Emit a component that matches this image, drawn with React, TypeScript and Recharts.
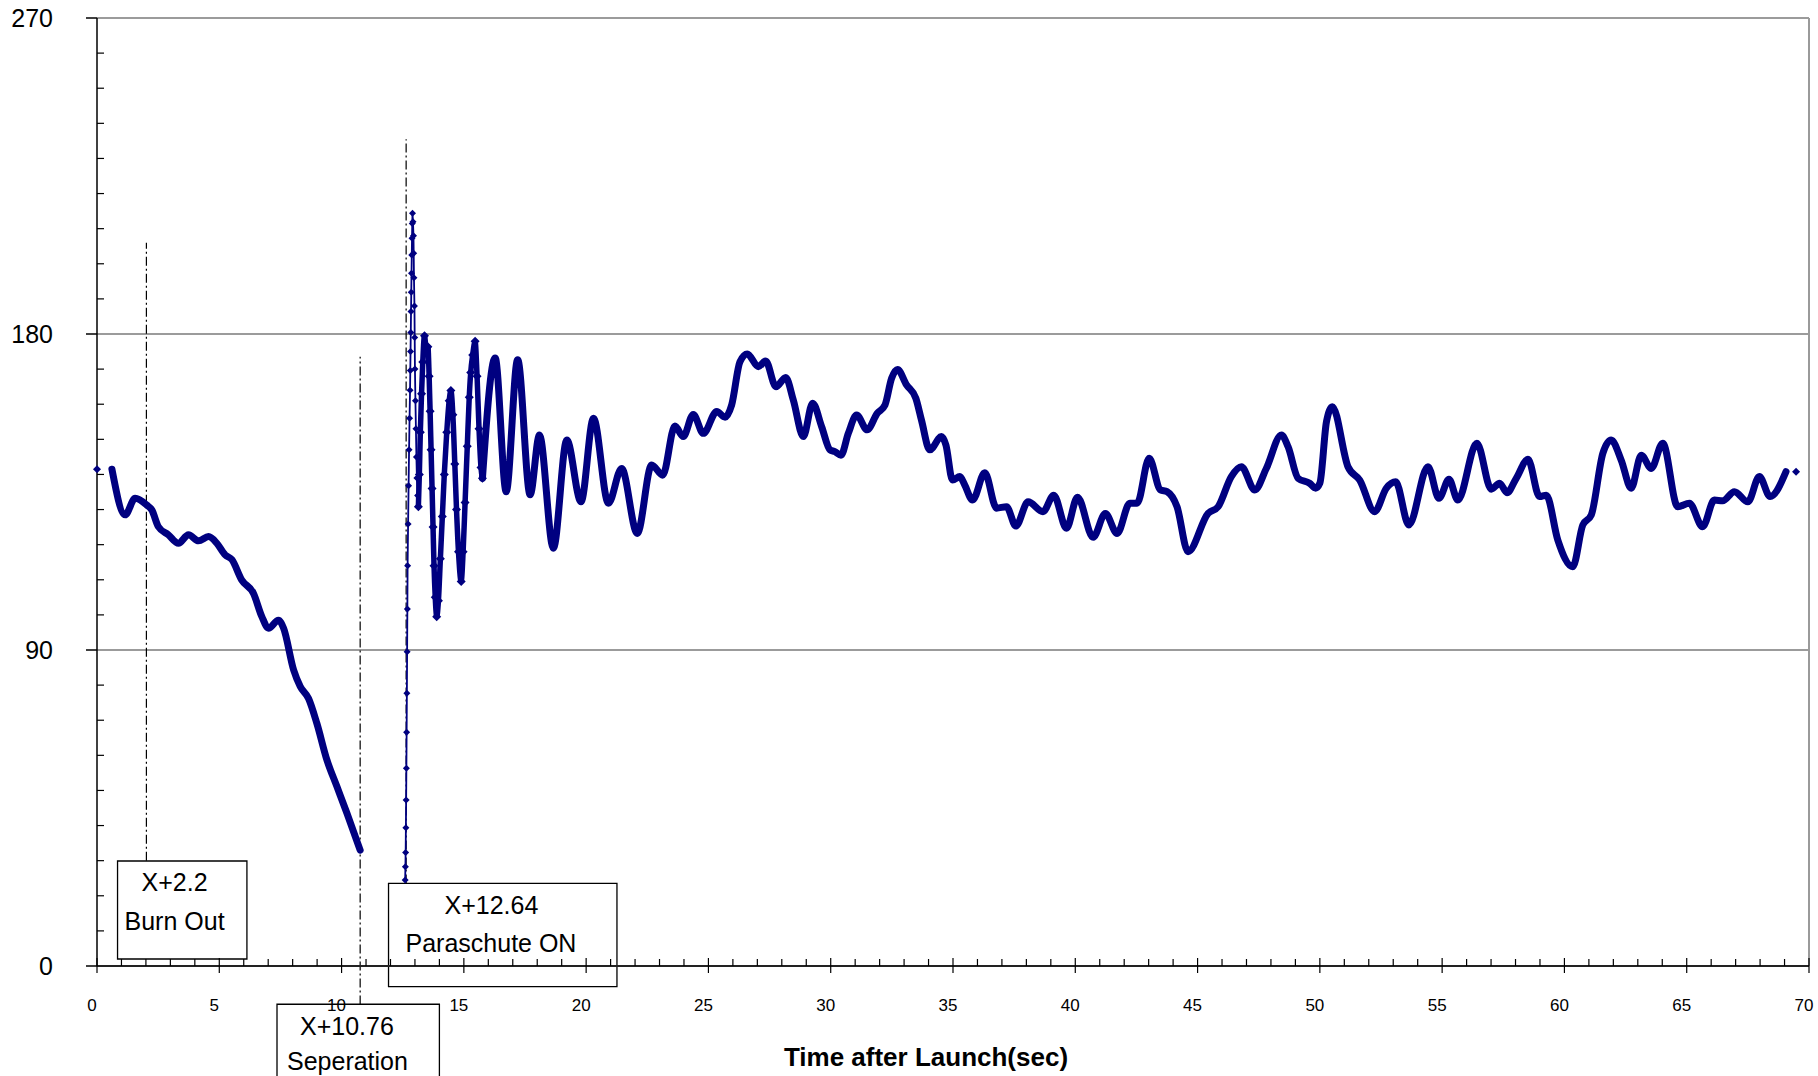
import { LineChart, Line, XAxis, YAxis, ReferenceLine, ReferenceArea } from 'recharts';

const NAVY = '#000080';
const FONT = '"Liberation Sans", Arial, sans-serif';

// [time (s), angle]
const startPoint: [number, number][] = [[0, 141.5]];

const boostPhase: [number, number][] = [
  [0.61, 141.5], [1.15, 128.5], [1.56, 133.2], [2.03, 131.3], [2.24, 129.9], [2.51, 125.1],
  [2.92, 122.8], [3.33, 120.4], [3.74, 122.8], [4.15, 121.1], [4.56, 122.3], [4.9, 120.4],
  [5.24, 117.1], [5.51, 115.8], [5.92, 109.9], [6.4, 106.1], [6.74, 99.5], [7.01, 96.2],
  [7.42, 98.5], [7.63, 96.2], [8.04, 84.3], [8.31, 79.6], [8.65, 76.2], [8.99, 69.1],
  [9.4, 58.7], [9.81, 51.1], [10.22, 43.5], [10.76, 33.0],
];

const chuteRise: [number, number][] = [
  [12.6, 24.5], [12.61, 28.3], [12.62, 32.3], [12.63, 39.4], [12.64, 47.3], [12.65, 56.3],
  [12.66, 66.6], [12.67, 77.7], [12.68, 89.5], [12.69, 101.7], [12.7, 114.0], [12.72, 125.9],
  [12.74, 136.8], [12.76, 147.0], [12.78, 156.0], [12.8, 164.0], [12.81, 169.6], [12.82, 175.0],
  [12.83, 180.4], [12.84, 186.4], [12.85, 191.9], [12.86, 197.3], [12.87, 202.5], [12.88, 207.3],
  [12.89, 211.5], [12.9, 214.4], [12.92, 212.0], [12.94, 208.0], [12.95, 203.0], [12.96, 196.0],
  [12.98, 188.0], [12.99, 179.0], [13.0, 170.0], [13.02, 161.0], [13.04, 153.0], [13.06, 145.0],
  [13.08, 139.0], [13.11, 134.0], [13.14, 130.8],
];

const chuteSwing: [number, number][] = [
  [13.14, 130.8], [13.18, 140], [13.22, 152], [13.27, 163], [13.32, 172], [13.39, 179.5],
  [13.46, 176], [13.53, 176.4], [13.58, 168], [13.62, 158], [13.66, 147], [13.7, 136],
  [13.74, 125], [13.78, 114], [13.83, 105], [13.89, 99.5], [13.96, 104], [14.04, 116],
  [14.12, 128], [14.2, 140], [14.3, 152], [14.4, 161], [14.47, 163.9], [14.55, 157],
  [14.63, 143], [14.7, 130], [14.78, 118], [14.89, 109.5], [14.97, 118], [15.05, 132],
  [15.14, 148], [15.22, 162], [15.28, 169], [15.36, 174], [15.46, 177.9], [15.54, 168],
  [15.62, 153], [15.7, 142], [15.76, 138.9],
];

const descentPhase: [number, number][] = [
  [15.76, 138.9], [16.28, 173.2], [16.73, 135.1], [17.2, 172.7], [17.71, 134.2], [18.09, 151.2],
  [18.66, 119.0], [19.21, 149.8], [19.79, 132.2], [20.3, 156.0], [20.91, 131.8], [21.45, 141.7],
  [22.09, 123.2], [22.68, 142.7], [23.13, 139.8], [23.63, 153.8], [23.97, 150.8], [24.38, 157.1],
  [24.79, 151.7], [25.34, 157.9], [25.68, 156.3], [25.95, 159.8], [26.29, 172.1], [26.59, 174.3],
  [27.04, 170.7], [27.34, 172.3], [27.76, 165.0], [28.16, 167.6], [28.47, 161.2], [28.88, 150.8],
  [29.26, 160.3], [29.63, 153.6], [29.97, 147.0], [30.17, 146.5], [30.42, 145.5], [30.72, 151.7],
  [31.06, 156.9], [31.49, 152.7], [31.9, 157.4], [32.22, 159.8], [32.49, 167.4], [32.73, 169.9],
  [33.1, 165.5], [33.48, 161.7], [33.71, 155.5], [34.05, 147.0], [34.53, 150.8], [34.71, 148.4],
  [34.98, 138.4], [35.28, 139.4], [35.48, 137.0], [35.8, 132.7], [36.3, 140.5], [36.78, 130.4],
  [37.19, 130.8], [37.57, 125.3], [38.07, 132.2], [38.68, 129.4], [39.12, 134.1], [39.64, 124.7],
  [40.09, 133.5], [40.73, 122.1], [41.23, 128.9], [41.71, 123.2], [42.23, 131.8], [42.53, 131.8],
  [43.02, 144.6], [43.48, 135.6], [43.75, 135.1], [44.16, 130.8], [44.61, 118.0], [45.43, 128.9],
  [45.84, 130.8], [46.38, 139.4], [46.79, 142.2], [47.34, 135.6], [47.81, 141.7], [48.43, 151.2],
  [48.7, 147.9], [49.11, 138.9], [49.58, 137.5], [49.83, 136.1], [50.0, 137.5], [50.27, 155.0],
  [50.51, 159.3], [51.15, 142.2], [51.63, 138.4], [52.24, 129.4], [52.72, 136.1], [53.1, 137.9],
  [53.64, 125.6], [54.42, 142.2], [54.87, 133.2], [55.28, 138.6], [55.64, 132.7], [56.42, 148.9],
  [57.01, 135.8], [57.35, 137.5], [57.65, 134.8], [58.03, 138.9], [58.51, 144.3], [58.98, 133.7],
  [59.26, 134.1], [59.73, 121.3], [60.34, 113.7], [60.75, 125.6], [61.1, 128.5], [61.57, 146.0],
  [61.91, 149.8], [62.32, 144.1], [62.73, 136.1], [63.14, 145.5], [63.55, 141.7], [64.02, 148.9],
  [64.63, 130.8], [65.11, 131.8], [65.65, 125.1], [66.13, 132.7], [66.47, 132.5], [66.95, 135.1],
  [67.5, 132.2], [67.97, 139.4], [68.41, 133.7], [69.06, 140.8],
];

const endPoint: [number, number][] = [[69.47, 140.8]];

const xTicks = Array.from({ length: 71 }, (_, i) => i);
const yTicks = Array.from({ length: 28 }, (_, i) => i * 10);
const gridValues = [90, 180, 270];

// event markers: dash-dot line drawn at t, from `from` up to `to`
const eventLines = [
  { t: 2.02, from: 30, to: 206 },
  { t: 10.76, from: -11, to: 173.5 },
  { t: 12.64, from: 23.5, to: 235.5 },
];

const eventBoxes = [
  { x1: 0.84, x2: 6.13, y1: 2.0, y2: 29.9, title: 'X+2.2', caption: 'Burn Out', tdx: 24, cdx: 7, tdy: 30, cdy: 69 },
  { x1: 7.36, x2: 14.0, y1: -40, y2: -10.9, title: 'X+10.76', caption: 'Seperation', tdx: 23, cdx: 10, tdy: 31, cdy: 66 },
  { x1: 11.92, x2: 21.26, y1: -5.9, y2: 23.55, title: 'X+12.64', caption: 'Paraschute ON', tdx: 56, cdx: 17, tdy: 31, cdy: 69 },
];

const toRows = (pts: [number, number][]) => pts.map(([t, v]) => ({ t, v }));

const Diamond = (props: any) => {
  const { cx, cy, r = 3.5 } = props;
  if (cx == null || cy == null) return null;
  return <path d={`M${cx},${cy - r}L${cx + r},${cy}L${cx},${cy + r}L${cx - r},${cy}Z`} fill={NAVY} />;
};

const XTick = (props: any) => {
  const { x, y, payload } = props;
  const v = payload.value;
  if (v % 5 === 0) {
    return (
      <g>
        <line x1={x} x2={x} y1={y - 8} y2={y + 7} stroke="#000" strokeWidth={1.2} />
        <text x={x - 5} y={y + 45} textAnchor="middle" fontSize={17} fill="#000" fontFamily={FONT}>
          {v}
        </text>
      </g>
    );
  }
  return <line x1={x} x2={x} y1={y - 7} y2={y} stroke="#000" strokeWidth={1.2} />;
};

const YTick = (props: any) => {
  const { x, y, payload } = props;
  const v = payload.value;
  if (v % 90 === 0) {
    return (
      <g>
        <line x1={x - 11} x2={x} y1={y} y2={y} stroke="#000" strokeWidth={1.5} />
        <text x={x - 44} y={y} dy="0.36em" textAnchor="end" fontSize={25} fill="#000" fontFamily={FONT}>
          {v}
        </text>
      </g>
    );
  }
  return <line x1={x} x2={x + 7} y1={y} y2={y} stroke="#000" strokeWidth={1.2} />;
};

const BoxLabel = (props: any) => {
  const { viewBox, title, caption, tdx, cdx, tdy, cdy } = props;
  if (!viewBox) return null;
  const { x, y } = viewBox;
  return (
    <g>
      <text x={x + tdx} y={y + tdy} fontSize={25} fill="#000" fontFamily={FONT}>{title}</text>
      <text x={x + cdx} y={y + cdy} fontSize={25} fill="#000" fontFamily={FONT}>{caption}</text>
    </g>
  );
};

function App() {
  return (
    <div style={{ position: 'absolute', left: 0, top: 0, width: 1818, height: 1076, background: '#fff', overflow: 'hidden' }}>
      <LineChart width={1818} height={1076} margin={{ top: 18, right: 9, bottom: 0, left: 0 }} style={{ fontFamily: FONT }}>
        <XAxis
          dataKey="t"
          type="number"
          domain={[0, 70]}
          ticks={xTicks}
          interval={0}
          height={110}
          tickLine={false}
          tickSize={0}
          tickMargin={0}
          axisLine={{ stroke: '#222', strokeWidth: 2 }}
          tick={<XTick />}
          label={{
            value: 'Time after Launch(sec)',
            position: 'insideBottom',
            offset: 10,
            dx: -27,
            fontSize: 26,
            fontWeight: 'bold',
            fill: '#000',
            fontFamily: FONT,
          }}
        />
        <YAxis
          type="number"
          domain={[0, 270]}
          ticks={yTicks}
          interval={0}
          width={97}
          tickLine={false}
          tickSize={0}
          tickMargin={0}
          axisLine={{ stroke: '#000', strokeWidth: 1.5 }}
          tick={<YTick />}
        />
        {gridValues.map((g) => (
          <ReferenceLine key={g} y={g} stroke="#7a7a7a" strokeWidth={1.5} />
        ))}
        <ReferenceLine x={70} stroke="#9a9a9a" strokeWidth={2} />
        {eventLines.map((e) => (
          <ReferenceLine
            key={e.t}
            segment={[{ x: e.t, y: e.from }, { x: e.t, y: e.to }]}
            ifOverflow="visible"
            stroke="#000"
            strokeWidth={1.2}
            strokeDasharray="9 3 2 3"
          />
        ))}
        {eventBoxes.map((b) => (
          <ReferenceArea
            key={b.title}
            x1={b.x1}
            x2={b.x2}
            y1={b.y1}
            y2={b.y2}
            ifOverflow="visible"
            fill="none"
            fillOpacity={0}
            stroke="#000"
            strokeWidth={1.3}
            label={<BoxLabel title={b.title} caption={b.caption} tdx={b.tdx} cdx={b.cdx} tdy={b.tdy} cdy={b.cdy} />}
          />
        ))}
        <Line data={toRows(startPoint)} dataKey="v" stroke="none" dot={<Diamond r={4} />} activeDot={false} isAnimationActive={false} />
        <Line
          data={toRows(boostPhase)}
          dataKey="v"
          type="monotone"
          stroke={NAVY}
          strokeWidth={7}
          strokeLinecap="round"
          strokeLinejoin="round"
          dot={false}
          activeDot={false}
          isAnimationActive={false}
        />
        <Line
          data={toRows(chuteRise)}
          dataKey="v"
          type="linear"
          stroke={NAVY}
          strokeWidth={1.8}
          dot={<Diamond r={3.5} />}
          activeDot={false}
          isAnimationActive={false}
        />
        <Line
          data={toRows(chuteSwing)}
          dataKey="v"
          type="monotone"
          stroke={NAVY}
          strokeWidth={5.5}
          strokeLinejoin="round"
          dot={<Diamond r={4.5} />}
          activeDot={false}
          isAnimationActive={false}
        />
        <Line
          data={toRows(descentPhase)}
          dataKey="v"
          type="monotone"
          stroke={NAVY}
          strokeWidth={7}
          strokeLinecap="round"
          strokeLinejoin="round"
          dot={false}
          activeDot={false}
          isAnimationActive={false}
        />
        <Line data={toRows(endPoint)} dataKey="v" stroke="none" dot={<Diamond r={4} />} activeDot={false} isAnimationActive={false} />
      </LineChart>
    </div>
  );
}

export default App;
